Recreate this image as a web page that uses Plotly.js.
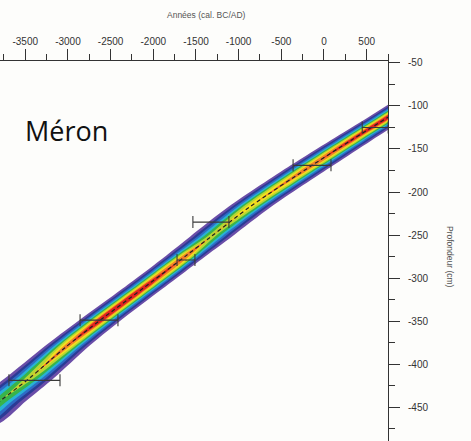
<!DOCTYPE html>
<html>
<head>
<meta charset="utf-8">
<script src="https://cdn.plot.ly/plotly-3.0.1.min.js"></script>
<style>
  html, body { margin: 0; padding: 0; background: #fdfdfb; }
  #chart { width: 471px; height: 441px; }
</style>
</head>
<body>
<div id="chart"></div>
<script>
// ---- Age-depth model ----
const modelDepth = [-90, -113, -140, -169, -217, -252, -274, -312, -350, -381, -416, -443, -470];
const modelYear  = [1115, 750, 315, -140, -865, -1325, -1615, -2120, -2635, -3035, -3445, -3796, -4150];
const modelHalfWidth = [230, 230, 240, 250, 250, 245, 235, 235, 245, 260, 285, 305, 320];
const modelPeak  = [1.0, 1.0, 0.95, 0.9, 0.75, 0.6, 0.9, 1.0, 1.0, 0.85, 0.6, 0.5, 0.5];

// ---- Dated levels (calibrated ranges) ----
const dateYear  = [600, -140, -1325, -1617, -2636, -3392];
const dateDepth = [-125, -169, -235, -279, -349, -419];
const dateError = [152, 222, 211, 105, 222, 299];

// ---- Axis ticks ----
const xTickVals = [-3500, -3000, -2500, -2000, -1500, -1000, -500, 0, 500];
const xTickText = ['-3500', '-3000', '-2500', '-2000', '-1500', '-1000', '-500', '0', '500'];
const yTickVals = [-50, -100, -150, -200, -250, -300, -350, -400, -450];
const yTickText = ['-50', '-100', '-150', '-200', '-250', '-300', '-350', '-400', '-450'];

// ---- Probability colour levels (outer -> inner) ----
const levels = [0.03, 0.08, 0.16, 0.27, 0.4, 0.54, 0.68, 0.8, 0.9];
const levelColors = ['#6a4ea8', '#2b3b95', '#2d6cc5', '#28b2d6', '#38b44a', '#b8d533', '#f4e21d', '#f2862a', '#e1231f'];

const traces = [];
levels.forEach((L, k) => {
  const up = [], lo = [];
  for (let i = 0; i < modelDepth.length; i++) {
    const p = modelPeak[i];
    const s = modelHalfWidth[i] / Math.sqrt(2 * Math.log(p / levels[0]));
    const hw = p > L ? s * Math.sqrt(2 * Math.log(p / L)) : 0;
    up.push(modelYear[i] + hw);
    lo.push(modelYear[i] - hw);
  }
  traces.push({
    x: up.concat(lo.slice().reverse()),
    y: modelDepth.concat(modelDepth.slice().reverse()),
    type: 'scatter', mode: 'lines', fill: 'toself',
    fillcolor: levelColors[k],
    line: { width: 0, shape: 'spline', smoothing: 0.8 },
    hoverinfo: 'skip', showlegend: false
  });
});

traces.push({
  x: modelYear, y: modelDepth, type: 'scatter', mode: 'lines',
  line: { color: '#222', width: 1.2, dash: '4px,3px', shape: 'spline', smoothing: 0.8 },
  hoverinfo: 'skip', showlegend: false
});

traces.push({
  x: dateYear, y: dateDepth, type: 'scatter', mode: 'markers',
  marker: { size: 1, color: '#333' },
  error_x: { type: 'data', array: dateError, visible: true, color: '#3a3a3a', thickness: 1.1, width: 6 },
  hoverinfo: 'skip', showlegend: false
});

const fontFam = 'Liberation Sans, Arial, sans-serif';
const layout = {
  width: 471, height: 441,
  margin: { l: 0, r: 83, t: 61, b: 0 },
  paper_bgcolor: '#fdfdfb', plot_bgcolor: '#fdfdfb',
  showlegend: false,
  xaxis: {
    side: 'top', range: [-3796, 750],
    showline: true, linecolor: '#333', linewidth: 1,
    ticks: 'outside', ticklen: 11, tickwidth: 1, tickcolor: '#333',
    tickmode: 'array', tickvals: xTickVals, ticktext: xTickText,
    minor: { ticks: 'outside', ticklen: 6, tickwidth: 1, tickcolor: '#333', tickmode: 'linear', tick0: 0, dtick: 250 },
    showgrid: false, zeroline: false,
    tickfont: { family: fontFam, size: 10, color: '#333' }
  },
  yaxis: {
    side: 'right', range: [-489.5, -47.7],
    showline: true, linecolor: '#333', linewidth: 1,
    ticks: 'outside', ticklen: 11, tickwidth: 1, tickcolor: '#333',
    tickmode: 'array', tickvals: yTickVals, ticktext: yTickText,
    ticklabelstandoff: 6,
    minor: { ticks: 'outside', ticklen: 6, tickwidth: 1, tickcolor: '#333', tickmode: 'linear', tick0: 0, dtick: 25 },
    showgrid: false, zeroline: false,
    tickfont: { family: fontFam, size: 10, color: '#333' }
  },
  annotations: [
    { text: 'Années (cal. BC/AD)', xref: 'paper', yref: 'paper', x: 0.5335, y: 1.121,
      xanchor: 'center', yanchor: 'middle', showarrow: false,
      font: { family: fontFam, size: 8.5, color: '#555' } },
    { text: 'Profondeur (cm)', xref: 'paper', yref: 'paper', x: 1.16, y: 0.484,
      xanchor: 'center', yanchor: 'middle', showarrow: false, textangle: 90,
      font: { family: fontFam, size: 8.5, color: '#555' } },
    { text: 'Méron', xref: 'paper', yref: 'paper', x: 0.058, y: 0.818,
      xanchor: 'left', yanchor: 'middle', showarrow: false,
      font: { family: 'Open Sans, sans-serif', size: 27, color: '#111' } }
  ]
};

Plotly.newPlot('chart', traces, layout, { displayModeBar: false, staticPlot: true });
</script>
</body>
</html>
